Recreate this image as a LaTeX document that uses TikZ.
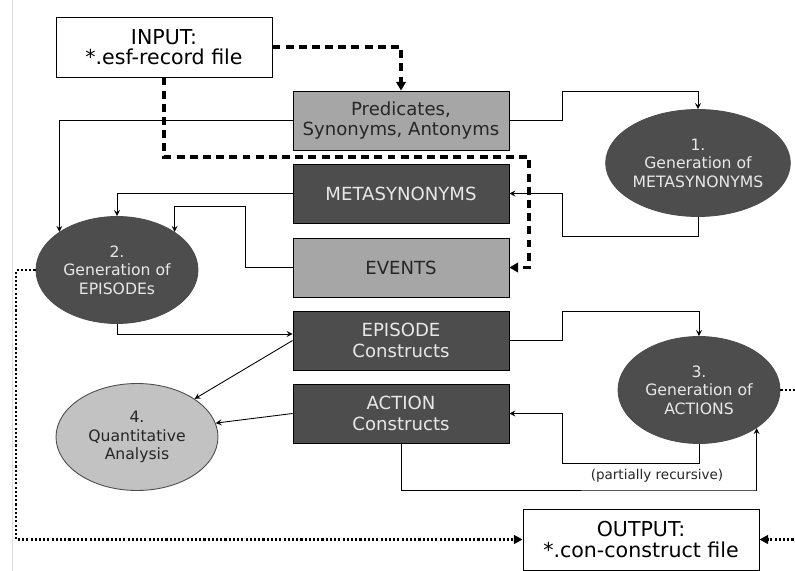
\documentclass[tikz,border=0pt]{standalone}
\usepackage{fontspec}
\setmainfont{DejaVu Sans}
\usepackage{tikz}
\usetikzlibrary{shapes.geometric}
\usetikzlibrary{arrows,arrows.meta}
\usetikzlibrary{calc}
\definecolor{boxdark}{RGB}{77,77,77}
\definecolor{boxlight}{RGB}{166,166,166}
\definecolor{ovallight}{RGB}{194,194,194}
\definecolor{schrift}{RGB}{232,232,232}

\begin{document}
\begin{tikzpicture}[x=0.02cm, y=-0.02cm, line width=0.5pt,
    datei/.style={draw, fill=white, minimum width=4.32cm, minimum height=1.2cm, align=center, font=\fontsize{11.7}{11.5}\selectfont},
    kasten/.style={draw, minimum width=4.32cm, minimum height=1.18cm, align=center, font=\fontsize{10.3}{11.5}\selectfont},
    hell/.style={kasten, fill=boxlight, text=black!85},
    dunkel/.style={kasten, fill=boxdark, text=schrift},
    schritt/.style={ellipse, draw=black!70, fill=boxdark, text=schrift, minimum width=3.24cm, minimum height=2.14cm, inner sep=0pt, align=center, font=\fontsize{8.9}{10.5}\selectfont},
    pfeil/.style={-stealth},
    strich/.style={line width=1.9pt, dash pattern=on 4.5pt off 3pt, -{Triangle[length=5pt,width=5.5pt]}},
    punkte/.style={line width=1.7pt, dash pattern=on 1.2pt off 1.2pt, -{Triangle[length=5pt,width=5pt]}}]

    \useasboundingbox (0,0) rectangle (795,571);
    \draw[black!12] (12,0) -- (12,571);

    \node[datei] (input) at (164,47) {INPUT:\\*.esf-record file};
    \node[hell] (pred) at (401,120.5) {Predicates,\\Synonyms, Antonyms};
    \node[dunkel] (meta) at (401,193.5) {METASYNONYMS};
    \node[hell] (events) at (401,267.5) {EVENTS};
    \node[dunkel] (episode) at (401,340.5) {EPISODE\\Constructs};
    \node[dunkel] (action) at (401,413.5) {ACTION\\Constructs};

    \node[schritt] (gen1) at (698,163) {1.\\Generation of\\METASYNONYMS};
    \node[schritt] (gen2) at (117,270) {2.\\Generation of\\EPISODEs};
    \node[schritt] (gen3) at (699,390) {3.\\Generation of\\ACTIONS};
    \node[schritt, fill=ovallight, text=black!85] (quant) at (137,437) {4.\\Quantitative\\Analysis};

    \node[datei, minimum width=4.72cm, minimum height=1.22cm] (output) at (641,539.5) {OUTPUT:\\*.con-construct file};

    \draw[strich] (input.east) -| (pred.north);
    \draw[strich] (input.south) |- (529,157) |- (events.east);

    \draw[pfeil] (pred.east) -| (562,91) -| (gen1.north);
    \draw[pfeil] (gen1.south) |- (562,236) |- (meta.east);
    \draw[pfeil] (pred.west) -| (gen2.north west);
    \draw[pfeil] (meta.west) -| (gen2.north);
    \draw[pfeil] (events.west) -| (245,206) -| (gen2.north east);
    \draw[pfeil] (gen2.south) |- ([yshift=0.13cm]episode.west);

    \draw[pfeil] (episode.west) -- (quant.north east);
    \draw[pfeil] (action.west) -- (quant.10);

    \draw[pfeil] (episode.east) -| (562,311) -| (gen3.north);
    \draw[pfeil] (gen3.south) |- (562,463) |- (action.east);
    \draw[pfeil] (action.south) |- (757,490) -| (gen3.south east);
    \node[font=\fontsize{7.7}{9}\selectfont, text=black!85] (rekursiv) at (657,476) {(partially recursive)};

    \draw[punkte] (gen2.west) -| (16,539.5) -- (output.west);
    \draw[punkte] (gen3.east) -| (805,539.5) -- (output.east);

\end{tikzpicture}
\end{document}
